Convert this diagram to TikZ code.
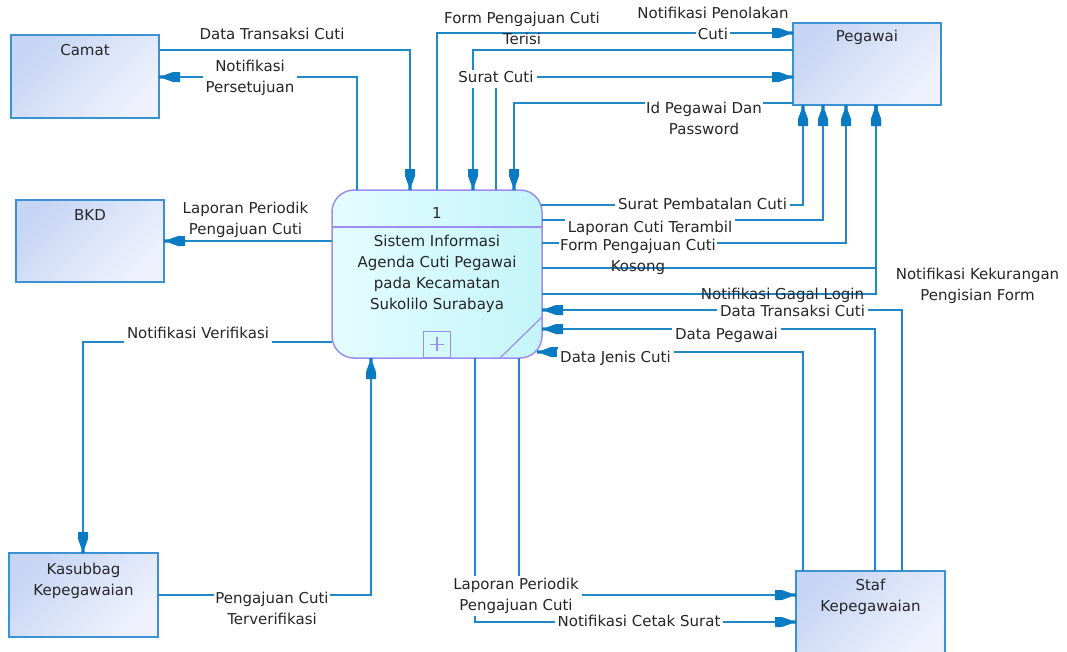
\documentclass[tikz,border=0pt]{standalone}
\usepackage{fontspec}
\setmainfont{DejaVu Sans}
\usetikzlibrary{calc,arrows.meta}

\definecolor{flowblue}{HTML}{1F88C9}
\definecolor{tipblue}{HTML}{0A7BC2}
\definecolor{entedge}{HTML}{3A92D2}
\definecolor{entA}{HTML}{C6D5F4}
\definecolor{entB}{HTML}{EFF2FD}
\definecolor{procedge}{HTML}{9C8EF0}
\definecolor{procA}{HTML}{E4FDFF}
\definecolor{procB}{HTML}{C4F5FA}
\definecolor{ink}{HTML}{262626}

% data-flow arrow head: thin neck, flared body, square back
\pgfdeclarearrow{
  name = DfdTip,
  parameters = {},
  setup code = {
    \pgfarrowssettipend{0pt}
    \pgfarrowssetlineend{-17pt}
    \pgfarrowssetbackend{-21pt}
    \pgfarrowsupperhullpoint{0pt}{1.7pt}
    \pgfarrowsupperhullpoint{-21pt}{5pt}
  },
  drawing code = {
    \pgfpathmoveto{\pgfqpoint{0pt}{1.7pt}}
    \pgfpathlineto{\pgfqpoint{-5pt}{1.7pt}}
    \pgfpathlineto{\pgfqpoint{-14pt}{5pt}}
    \pgfpathlineto{\pgfqpoint{-21pt}{5pt}}
    \pgfpathlineto{\pgfqpoint{-21pt}{-5pt}}
    \pgfpathlineto{\pgfqpoint{-14pt}{-5pt}}
    \pgfpathlineto{\pgfqpoint{-5pt}{-1.7pt}}
    \pgfpathlineto{\pgfqpoint{0pt}{-1.7pt}}
    \pgfpathclose
    \pgfusepathqfill
  }
}

% white backing for a single label line
\newcommand\hlw[1]{{\setlength\fboxsep{1.5pt}\colorbox{white}{#1}}}

\begin{document}
\begin{tikzpicture}[x=1pt,y=-1pt,
  every node/.style={font=\fontsize{15pt}{21pt}\selectfont, text=ink},
  entity/.style={draw=entedge, line width=1.8pt, top color=entA, bottom color=entB,
    shading angle=45, inner sep=0pt, outer sep=0pt},
  process/.style={draw=procedge, line width=1.5pt, rounded corners=22pt,
    left color=procA, right color=procB, minimum width=210pt, minimum height=168pt,
    inner sep=0pt, outer sep=0pt},
  boxtext/.style={align=center, inner sep=0pt},
  flow/.style={draw=flowblue, line width=1.5pt, -{DfdTip[color=tipblue]}},
  lbl/.style={align=center, inner sep=1pt},
  lbl1/.style={lbl, text height=11pt, text depth=3.5pt},
  lblw/.style={lbl1, fill=white, inner xsep=3pt, inner ysep=2pt},
  lblm/.style={lbl, fill=white, inner xsep=3pt, inner ysep=2pt}
]
\useasboundingbox (0,0) rectangle (1067,651);

% external entities
\node[entity, minimum width=148pt, minimum height=83pt] (camat) at (85,76.5) {};
\node[entity, minimum width=148pt, minimum height=82pt] (bkd) at (90,241) {};
\node[entity, minimum width=149pt, minimum height=84pt] (kasubbag) at (83.5,595) {};
\node[entity, minimum width=148pt, minimum height=82pt] (pegawai) at (867,64) {};
\node[entity, minimum width=149pt, minimum height=84pt] (staf) at (870.5,613) {};

\node[boxtext] (camatT) at ($(camat.north)+(0,15.5)$) {Camat};
\node[boxtext] (bkdT) at ($(bkd.north)+(0,15.5)$) {BKD};
\node[boxtext] (kasubbagT) at ($(kasubbag.north)+(0,28)$) {Kasubbag\\Kepegawaian};
\node[boxtext] (pegawaiT) at ($(pegawai.north)+(0,14)$) {Pegawai};
\node[boxtext] (stafT) at ($(staf.north)+(0,25.5)$) {Staf\\Kepegawaian};

% process
\node[process] (proc) at (437,274) {};
\node[boxtext] (procNum) at ($(proc.north)+(0,23.5)$) {1};
\draw[procedge, line width=1.3pt] ($(proc.north west)+(0,37)$) -- ($(proc.north east)+(0,37)$);
\node[boxtext] (procName) at (proc.center) {Sistem Informasi\\Agenda Cuti Pegawai\\pada Kecamatan\\Sukolilo Surabaya};
\node[draw=procedge, line width=1.3pt, minimum width=27pt, minimum height=26pt,
  inner sep=0pt, anchor=south] (procPlus) at (proc.south) {};
\draw[procedge, line width=1.2pt]
  ($(procPlus.center)+(-7,0)$) -- ($(procPlus.center)+(7,0)$)
  ($(procPlus.center)+(0,-7)$) -- ($(procPlus.center)+(0,7)$);
\draw[procedge, line width=1.2pt] ($(proc.south east)+(-42,0)$) -- ($(proc.south east)+(0,-41)$);

% data flows
\draw[flow] ($(camat.north east)+(0,15)$) -| ($(proc.north west)+(78,0)$);
\draw[flow] ($(proc.north west)+(25,0)$) |- ($(camat.north east)+(0,42)$);
\draw[flow] ($(proc.north west)+(105,0)$) |- ($(pegawai.north west)+(0,10)$);
\draw[flow] ($(pegawai.north west)+(0,27)$) -| ($(proc.north west)+(141,0)$);
\draw[flow] ($(proc.north west)+(164,0)$) |- ($(pegawai.north west)+(0,54)$);
\draw[flow] ($(pegawai.north west)+(0,80)$) -| ($(proc.north west)+(182,0)$);
\draw[flow] ($(proc.north east)+(-1,15)$) -| ($(pegawai.south west)+(10,0)$);
\draw[flow] ($(proc.north east)+(0,30)$) -| ($(pegawai.south west)+(30,0)$);
\draw[flow] ($(proc.north east)+(0,53)$) -| ($(pegawai.south west)+(53,0)$);
\draw[flow] ($(proc.north east)+(0,78)$) -| ($(pegawai.south west)+(83,0)$);
\draw[flow] ($(proc.north east)+(0,104)$) -| ($(pegawai.south west)+(83,0)$);
\draw[flow] ($(staf.north west)+(106,0)$) |- ($(proc.north east)+(0,120)$);
\draw[flow] ($(staf.north west)+(79,0)$) |- ($(proc.north east)+(0,139)$);
\draw[flow] ($(staf.north west)+(7,0)$) |- ($(proc.south east)+(-5,-6)$);
\draw[flow] ($(proc.south west)+(143,0)$) |- ($(staf.north west)+(0,51)$);
\draw[flow] ($(proc.south west)+(187,0)$) |- ($(staf.north west)+(0,24)$);
\draw[flow] ($(kasubbag.north east)+(0,42)$) -| ($(proc.south west)+(39,0)$);
\draw[flow] ($(proc.north west)+(0,152)$) -| ($(kasubbag.north west)+(74,0)$);
\draw[flow] ($(proc.north west)+(0,51)$) -- ($(bkd.north east)+(0,41)$);

% flow labels
\node[lbl1] (l1) at (272,35.5) {Data Transaksi Cuti};
\node[lblm] (l2) at (250,77.5) {Notifikasi\\Persetujuan};
\node[lbl] (l3) at (713,24.5) {Notifikasi Penolakan\\\hlw{Cuti}};
\node[lbl] (l4) at (522,28.5) {Form Pengajuan Cuti\\Terisi};
\node[lblw] (l5) at (496,79) {Surat Cuti};
\node[lbl] (l6) at (704,117.5) {\hlw{Id Pegawai Dan}\\Password};
\node[lblw] (l7) at (702.5,205.5) {Surat Pembatalan Cuti};
\node[lblw, inner ysep=3pt] (l8) at (650,228.5) {Laporan Cuti Terambil};
\node[lbl] (l9) at (638,256) {\hlw{Form Pengajuan Cuti}\\Kosong};
\node[lbl] (l10) at (977.5,285.5) {Notifikasi Kekurangan\\Pengisian Form};
\node[lbl1] (l11) at (782.5,295.5) {Notifikasi Gagal Login};
\node[lblw, inner ysep=1pt] (l12) at (792.5,312.5) {Data Transaksi Cuti};
\node[lblw] (l13) at (726.5,335.5) {Data Pegawai};
\node[lblw] (l14) at (615.5,358.5) {Data Jenis Cuti};
\node[lblw] (l15) at (639,622.5) {Notifikasi Cetak Surat};
\node[lblm] (l16) at (516,596) {Laporan Periodik\\Pengajuan Cuti};
\node[lbl] (l17) at (272,608) {\hlw{Pengajuan Cuti}\\Terverifikasi};
\node[lblw] (l18) at (198,334.5) {Notifikasi Verifikasi};
\node[lbl] (l19) at (245.5,219.5) {Laporan Periodik\\Pengajuan Cuti};
\end{tikzpicture}
\end{document}
